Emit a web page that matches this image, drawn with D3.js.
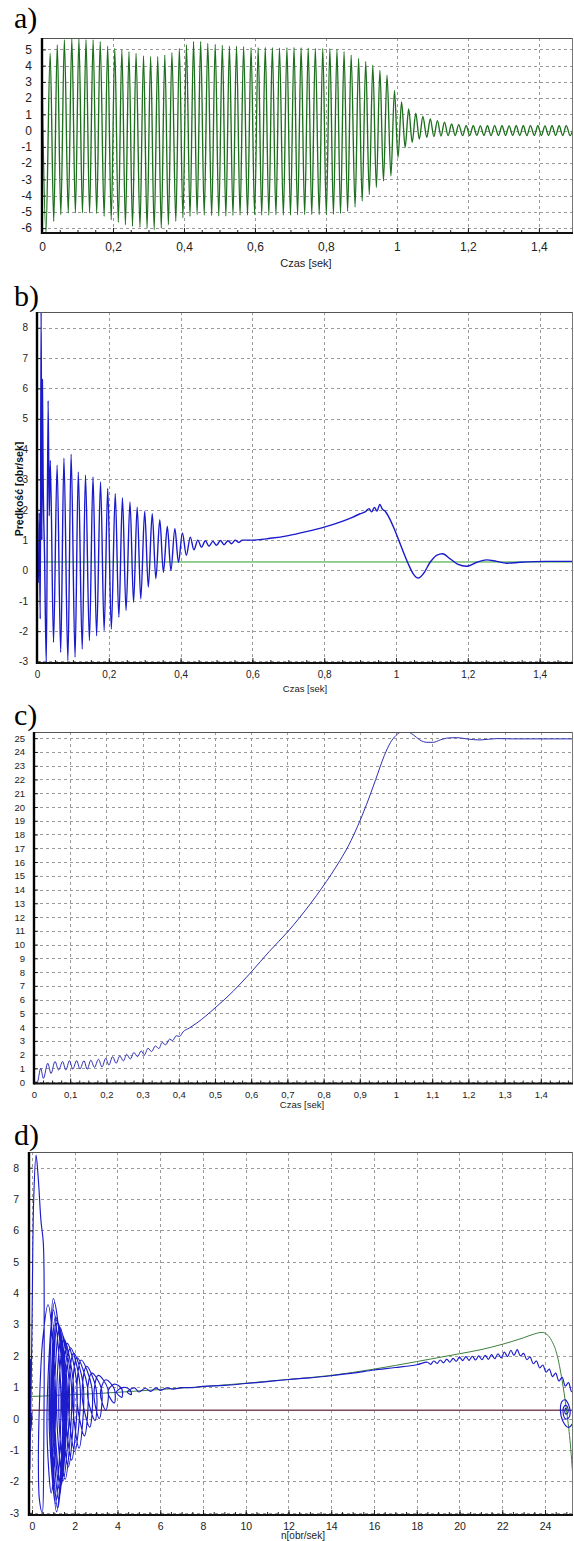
<!DOCTYPE html>
<html>
<head>
<meta charset="utf-8">
<script src="https://cdn.jsdelivr.net/npm/d3@7"></script>
<style>
  body { margin: 0; background: #fff; }
</style>
</head>
<body>
<svg id="chart" width="574" height="1541"></svg>
<script>
// ---- a) current vs time : peaks and troughs ----
var aStart = [[0, 3.5]];
var aPeaks = [[0.023,4.75],[0.043,5.27],[0.063,5.58],[0.084,5.64],[0.104,5.64],[0.124,5.6],[0.144,5.58],[0.164,5.48],[0.185,5.2],[0.205,5.06],[0.225,4.96],[0.245,4.85],[0.265,4.75],[0.286,4.6],[0.306,4.55],[0.326,4.55],[0.346,4.65],[0.366,4.8],[0.387,5.06],[0.407,5.27],[0.427,5.48],[0.447,5.48],[0.467,5.37],[0.488,5.3],[0.508,5.25],[0.528,5.2],[0.548,5.2],[0.568,5.17],[0.589,5.1],[0.609,5.1],[0.629,5.12],[0.649,5.1],[0.669,5.08],[0.69,5.1],[0.71,5.12],[0.73,5.1],[0.75,5.08],[0.77,5.06],[0.791,5.06],[0.811,5.04],[0.831,5.0],[0.851,4.86],[0.871,4.65],[0.892,4.44],[0.912,4.24],[0.932,4.03],[0.952,3.72],[0.972,3.41],[0.993,2.48],[1.013,1.76],[1.033,1.34],[1.053,1.07],[1.073,0.87],[1.094,0.72],[1.114,0.62],[1.134,0.52],[1.154,0.41],[1.174,0.37],[1.195,0.31],[1.215,0.3],[1.235,0.29],[1.255,0.3],[1.275,0.31],[1.296,0.3],[1.316,0.29],[1.336,0.3],[1.356,0.3],[1.376,0.31],[1.397,0.3],[1.417,0.29],[1.437,0.3],[1.457,0.3],[1.477,0.31],[1.498,0.3]];
var aTroughs = [[0.011,-6.3],[0.033,-5.58],[0.053,-5.17],[0.074,-5.06],[0.094,-5.06],[0.114,-5.06],[0.134,-5.06],[0.154,-5.1],[0.175,-5.27],[0.195,-5.48],[0.215,-5.64],[0.235,-5.79],[0.255,-5.89],[0.276,-5.95],[0.296,-6.0],[0.316,-6.1],[0.336,-6.0],[0.356,-5.79],[0.377,-5.58],[0.397,-5.37],[0.417,-5.27],[0.437,-5.17],[0.457,-5.2],[0.478,-5.22],[0.498,-5.25],[0.518,-5.25],[0.538,-5.22],[0.558,-5.2],[0.579,-5.2],[0.599,-5.18],[0.619,-5.2],[0.639,-5.2],[0.659,-5.18],[0.68,-5.2],[0.7,-5.2],[0.72,-5.18],[0.74,-5.17],[0.76,-5.17],[0.781,-5.17],[0.801,-5.17],[0.821,-5.15],[0.841,-5.1],[0.861,-4.96],[0.882,-4.71],[0.902,-4.34],[0.922,-3.93],[0.942,-3.51],[0.962,-3.1],[0.983,-2.79],[1.003,-1.65],[1.023,-1.03],[1.043,-0.72],[1.063,-0.52],[1.084,-0.41],[1.104,-0.37],[1.124,-0.33],[1.144,-0.31],[1.164,-0.3],[1.185,-0.31],[1.205,-0.3],[1.225,-0.29],[1.245,-0.3],[1.265,-0.31],[1.286,-0.3],[1.306,-0.3],[1.326,-0.29],[1.346,-0.3],[1.366,-0.31],[1.387,-0.3],[1.407,-0.3],[1.427,-0.29],[1.447,-0.3],[1.467,-0.3],[1.488,-0.31]];
var aXTicks = [0, 0.2, 0.4, 0.6, 0.8, 1, 1.2, 1.4];
var aYTicks = [-6, -5, -4, -3, -2, -1, 0, 1, 2, 3, 4, 5];

// ---- b) torque vs time ----
var bTorque = [[0,0.2],[0.004,-0.4],[0.006,1.9],[0.009,-1.6],[0.0115,8.7],[0.0135,1.0],[0.015,6.3],[0.017,3.2],[0.021,0.5],[0.026,-3.08],[0.031,5.6],[0.034,1.8],[0.037,3.63],[0.046,-2.37],[0.056,3.47],[0.066,-2.7],[0.075,3.7],[0.086,-2.97],[0.095,3.83],[0.106,-2.86],[0.115,3.25],[0.126,-2.59],[0.135,3.14],[0.146,-2.31],[0.156,3.08],[0.166,-2.15],[0.177,2.92],[0.187,-1.98],[0.197,2.7],[0.207,-1.93],[0.218,2.53],[0.228,-1.54],[0.238,2.4],[0.248,-1.32],[0.259,2.26],[0.269,-1.05],[0.279,2.09],[0.289,-0.94],[0.3,1.95],[0.31,-0.55],[0.321,1.87],[0.331,-0.27],[0.342,1.67],[0.352,-0.06],[0.363,1.45],[0.373,0.0],[0.384,1.38],[0.394,0.27],[0.405,1.24],[0.416,0.5],[0.427,1.1],[0.437,0.68],[0.448,1.0],[0.458,0.77],[0.469,0.98],[0.479,0.8],[0.49,0.96],[0.5,0.83],[0.511,0.99],[0.521,0.85],[0.532,0.98],[0.542,0.88],[0.552,1.0],[0.562,0.92],[0.572,1.0],[0.6,1.0],[0.65,1.06],[0.7,1.15],[0.75,1.28],[0.8,1.43],[0.85,1.62],[0.88,1.76],[0.9,1.87],[0.915,1.94],[0.925,2.04],[0.932,1.93],[0.94,2.08],[0.947,1.96],[0.955,2.18],[0.962,2.02],[0.97,1.95],[0.98,1.76],[0.997,1.32],[1.015,0.77],[1.034,0.22],[1.048,-0.11],[1.062,-0.25],[1.076,-0.11],[1.095,0.27],[1.113,0.5],[1.13,0.55],[1.15,0.39],[1.173,0.2],[1.197,0.14],[1.225,0.27],[1.252,0.35],[1.28,0.3],[1.308,0.24],[1.345,0.27],[1.42,0.3],[1.493,0.3]];
var bLoad = 0.28;
var bXTicks = [0, 0.2, 0.4, 0.6, 0.8, 1, 1.2, 1.4];
var bYTicks = [-3, -2, -1, 0, 1, 2, 3, 4, 5, 6, 7, 8];

// ---- c) speed vs time ----
var cSpeed = [[0,0],[0.009,0],[0.0185,1.0],[0.026,0.27],[0.038,1.37],[0.047,0.63],[0.058,1.5],[0.068,0.88],[0.079,1.5],[0.088,0.88],[0.098,1.56],[0.107,0.95],[0.118,1.56],[0.127,0.95],[0.138,1.56],[0.147,0.93],[0.157,1.6],[0.167,1.07],[0.178,1.66],[0.188,1.1],[0.198,1.73],[0.207,1.24],[0.217,1.85],[0.227,1.37],[0.237,1.9],[0.247,1.54],[0.256,2.02],[0.266,1.68],[0.276,2.15],[0.286,1.85],[0.296,2.27],[0.305,1.98],[0.315,2.46],[0.325,2.22],[0.335,2.63],[0.345,2.44],[0.354,2.88],[0.364,2.71],[0.374,3.12],[0.383,3.02],[0.393,3.37],[0.402,3.32],[0.412,3.66],[0.429,3.93],[0.45,4.3],[0.5,5.39],[0.55,6.6],[0.6,8.0],[0.65,9.5],[0.7,10.9],[0.735,12.0],[0.795,14.1],[0.845,16.1],[0.87,17.25],[0.894,18.6],[0.919,20.2],[0.944,22.0],[0.968,23.75],[0.985,24.7],[1.0,25.2],[1.014,25.45],[1.028,25.5],[1.048,25.24],[1.066,24.87],[1.085,24.7],[1.103,24.7],[1.122,24.87],[1.145,25.02],[1.168,25.04],[1.195,24.95],[1.232,24.87],[1.278,24.97],[1.324,24.95],[1.489,24.95]];
var cXTicks = [0, 0.1, 0.2, 0.3, 0.4, 0.5, 0.6, 0.7, 0.8, 0.9, 1, 1.1, 1.2, 1.3, 1.4];
var cYTicks = [0,1,2,3,4,5,6,7,8,9,10,11,12,13,14,15,16,17,18,19,20,21,22,23,24,25];

// ---- d) torque vs speed ----
var dDynamic = [[0,0.2],[-0.05,-0.4],[-0.08,1.9],[-0.1,-1.6],[0.0,3.0],[0.08,7.0],[0.19,8.4],[0.3,7.6],[0.42,6.3],[0.53,5.6],[0.57,2.5],[0.55,-1.0],[0.48,-3.0],[0.35,-2.6],[0.3,-1.5],[0.35,0.5],[0.5,2.5],
  [0.75,3.63],[1.1,0.8],[0.9,-2.37],[0.7,-0.2],
  [1.0,3.47],[1.35,0.8],[1.1,-2.7],[0.8,0.0],
  [1.05,3.7],[1.45,0.8],[1.15,-2.97],[0.85,0.2],
  [1.0,3.83],[1.5,0.8],[1.2,-2.86],[0.9,0.2],
  [1.1,3.25],[1.55,0.9],[1.25,-2.59],[0.95,0.3],
  [1.15,3.14],[1.6,0.9],[1.3,-2.31],[1.0,0.3],
  [1.2,3.08],[1.65,1.0],[1.35,-2.15],[1.05,0.35],
  [1.3,2.92],[1.75,1.0],[1.45,-1.98],[1.15,0.4],
  [1.4,2.7],[1.85,1.0],[1.55,-1.93],[1.25,0.4],
  [1.5,2.53],[1.95,1.0],[1.7,-1.54],[1.4,0.45],
  [1.65,2.4],[2.1,1.05],[1.85,-1.32],[1.55,0.5],
  [1.8,2.26],[2.25,1.05],[2.0,-1.05],[1.7,0.55],
  [1.95,2.09],[2.4,1.05],[2.2,-0.94],[1.9,0.6],
  [2.1,1.95],[2.6,1.0],[2.45,-0.55],[2.1,0.65],
  [2.3,1.87],[2.8,1.0],[2.7,-0.27],[2.35,0.7],
  [2.55,1.67],[3.0,0.95],[2.95,-0.06],[2.6,0.75],
  [2.8,1.45],[3.25,0.95],[3.15,0.0],[2.9,0.75],
  [3.1,1.38],[3.55,0.95],[3.45,0.27],[3.2,0.8],
  [3.45,1.24],[3.85,0.95],[3.85,0.5],[3.55,0.85],
  [3.85,1.1],[4.2,0.95],[4.2,0.68],[3.95,0.85],
  [4.3,1.0],[4.6,0.9],[4.65,0.77],[4.45,0.85],
  [4.8,0.98],[5.0,0.85],[5.3,0.97],[5.55,0.87],[5.8,0.98],[6.0,0.9],[6.3,0.98],[6.6,0.94],[7.0,0.99],[7.5,0.99],[8.0,1.03],[9.0,1.06],[10.0,1.12],[11.0,1.18],[12.0,1.25],[13.0,1.3],[14.0,1.37],[15.0,1.45],[16.0,1.55],[17.0,1.63],[18.0,1.72],
  [18.5,1.8],[18.65,1.73],[18.8,1.84],[18.95,1.76],[19.1,1.87],[19.25,1.78],[19.4,1.9],[19.55,1.8],[19.7,1.92],[19.85,1.83],[20.0,1.96],[20.15,1.85],[20.3,1.98],[20.45,1.86],[20.6,1.99],[20.75,1.87],[20.9,2.0],[21.05,1.88],[21.2,2.02],[21.35,1.89],[21.5,2.04],[21.65,1.91],[21.8,2.07],[21.95,1.94],[22.1,2.12],[22.25,1.98],[22.4,2.18],[22.55,2.02],[22.7,2.2],[22.85,2.0],
  [23.0,2.08],[23.15,1.88],[23.3,1.97],[23.45,1.75],[23.6,1.84],[23.75,1.62],[23.9,1.71],[24.05,1.48],[24.2,1.58],[24.35,1.34],[24.5,1.45],[24.65,1.2],[24.8,1.32],[24.95,1.04],[25.1,1.15],[25.25,0.86],[25.4,0.95],[25.55,0.65],
  [25.65,0.5],[25.55,0.15],[25.3,-0.15],[25.1,-0.28],[24.85,-0.1],[24.72,0.3],[24.8,0.55],[24.95,0.6],[25.1,0.45],[25.18,0.2],[25.1,0.02],[24.95,0.0],[24.85,0.18],[24.9,0.4],[25.0,0.42],[25.08,0.3],[25.05,0.17],[24.97,0.15],[24.93,0.27],[24.97,0.33],[25.0,0.28]];
var dStatic = [[-0.14,0.71],[0,0.71],[1,0.74],[2,0.77],[3,0.8],[4,0.84],[6,0.93],[8,1.02],[10,1.13],[12,1.25],[14,1.38],[16,1.58],[18,1.82],[20,2.07],[21,2.2],[22,2.37],[23,2.58],[23.5,2.7],[23.85,2.75],[24.1,2.68],[24.3,2.5],[24.55,2.07],[24.8,1.22],[25.0,0.3],[25.17,-0.69],[25.32,-2.0]];
var dLoad = 0.27;
var dXTicks = [0, 2, 4, 6, 8, 10, 12, 14, 16, 18, 20, 22, 24];
var dYTicks = [-3, -2, -1, 0, 1, 2, 3, 4, 5, 6, 7, 8];

var svg = d3.select("#chart");
var sans = "'Liberation Sans', Arial, sans-serif";
var serif = "'Liberation Serif', 'Times New Roman', serif";

function commaFmt(d) { return String(d).replace(".", ","); }

function drawPanel(p) {
  var x = d3.scaleLinear().domain(p.xDomain).range([p.left, p.right]);
  var y = d3.scaleLinear().domain(p.yDomain).range([p.bottom, p.top]);
  var g = svg.append("g");

  g.append("clipPath").attr("id", p.id + "-clip")
    .append("rect")
    .attr("x", p.left).attr("y", p.top)
    .attr("width", p.right - p.left).attr("height", p.bottom - p.top);

  // dashed grid
  g.selectAll(".hgrid").data(p.yTicks).enter().append("line")
    .attr("x1", p.left).attr("x2", p.right)
    .attr("y1", function(d){ return Math.round(y(d)) + 0.5; })
    .attr("y2", function(d){ return Math.round(y(d)) + 0.5; })
    .attr("stroke", "#9a9a9a").attr("stroke-dasharray", "3,3");
  g.selectAll(".vgrid").data(p.xTicks.filter(function(d){ return x(d) > p.left + 2; })).enter().append("line")
    .attr("y1", p.top).attr("y2", p.bottom)
    .attr("x1", function(d){ return Math.round(x(d)) + 0.5; })
    .attr("x2", function(d){ return Math.round(x(d)) + 0.5; })
    .attr("stroke", "#9a9a9a").attr("stroke-dasharray", "3,3");

  // series
  var plot = g.append("g").attr("clip-path", "url(#" + p.id + "-clip)");
  p.series.forEach(function(s) {
    var line = d3.line()
      .x(function(d){ return x(d[0]); })
      .y(function(d){ return y(d[1]); })
      .curve(s.curve || d3.curveMonotoneX);
    plot.append("path").datum(s.data)
      .attr("d", line)
      .attr("fill", "none")
      .attr("stroke", s.color)
      .attr("stroke-width", s.width)
      .attr("stroke-linejoin", "round");
  });

  // frame
  g.append("line").attr("x1", p.left).attr("x2", p.right).attr("y1", p.top + 0.5).attr("y2", p.top + 0.5)
    .attr("stroke", "#555").attr("stroke-width", 1.2);
  g.append("line").attr("x1", p.right - 0.5).attr("x2", p.right - 0.5).attr("y1", p.top).attr("y2", p.bottom)
    .attr("stroke", "#777");

  // x axis labels + ticks
  var xa = g.append("g").attr("transform", "translate(0," + p.bottom + ")")
    .call(d3.axisBottom(x).tickValues(p.xTicks).tickFormat(commaFmt).tickSize(-5).tickPadding(p.xPad + 5));
  xa.select(".domain").remove();
  xa.selectAll("line").attr("stroke", "#222");
  xa.selectAll("text").attr("font-size", p.font).attr("fill", "#222").style("font-family", sans);

  var xm = g.append("g").attr("transform", "translate(0," + p.bottom + ")")
    .call(d3.axisBottom(x).tickValues(p.xMinor).tickFormat("").tickSize(-3));
  xm.select(".domain").remove();
  xm.selectAll("line").attr("stroke", "#222");

  // y axis labels + ticks
  var ya = g.append("g").attr("transform", "translate(" + p.left + ",0)")
    .call(d3.axisLeft(y).tickValues(p.yTicks).tickFormat(commaFmt).tickSize(-4).tickPadding(p.yPad + 4));
  ya.select(".domain").remove();
  ya.selectAll("line").attr("stroke", "#222");
  ya.selectAll("text").attr("font-size", p.font).attr("fill", "#222").style("font-family", sans);

  // axis lines
  g.append("line").attr("x1", p.left).attr("x2", p.left).attr("y1", p.top).attr("y2", p.bottom + 1)
    .attr("stroke", "#000").attr("stroke-width", 2.4);
  g.append("line").attr("x1", p.left).attr("x2", p.right).attr("y1", p.bottom).attr("y2", p.bottom)
    .attr("stroke", "#111").attr("stroke-width", 2);

  // axis title
  g.append("text").attr("x", p.titleX).attr("y", p.titleY)
    .attr("text-anchor", p.titleAnchor).attr("font-size", p.titleSize).attr("fill", "#222")
    .style("font-family", sans)
    .text(p.title);

  // panel letter
  svg.append("text").attr("x", 14).attr("y", p.letterY)
    .attr("font-size", 30).attr("fill", "#000")
    .style("font-family", serif)
    .text(p.letter);

  return { x: x, y: y };
}

drawPanel({
  id: "pa", letter: "a)", letterY: 28,
  left: 42, right: 573, top: 38, bottom: 233,
  xDomain: [0, 1.496], yDomain: [-6.3, 5.7],
  xTicks: aXTicks, yTicks: aYTicks, xMinor: d3.range(0.05, 1.5, 0.05),
  font: 12, xPad: 4, yPad: 6,
  title: "Czas [sek]", titleX: 306, titleY: 267, titleAnchor: "middle", titleSize: 11,
  series: [
    { data: aStart.concat(aPeaks, aTroughs).sort(function(p, q){ return p[0] - q[0]; }), color: "#1c6f1c", width: 1.35 }
  ]
});

drawPanel({
  id: "pb", letter: "b)", letterY: 306,
  left: 37, right: 573, top: 312, bottom: 663,
  xDomain: [0, 1.493], yDomain: [-3.05, 8.52],
  xTicks: bXTicks, yTicks: bYTicks, xMinor: d3.range(0.05, 1.5, 0.05),
  font: 10, xPad: 3, yPad: 5,
  title: "Czas [sek]", titleX: 305, titleY: 692, titleAnchor: "middle", titleSize: 9.5,
  series: [
    { data: [[0, bLoad], [1.493, bLoad]], color: "#2e9e2e", width: 1, curve: d3.curveLinear },
    { data: bTorque, color: "#1a1acc", width: 1.4 }
  ]
});

// vertical title of b), partly cut off at the left like in the source
svg.append("clipPath").attr("id", "blabel-clip")
  .append("rect").attr("x", 14).attr("y", 430).attr("width", 10).attr("height", 120);
svg.append("g")
  .attr("clip-path", "url(#blabel-clip)")
  .append("text")
  .attr("transform", "translate(23,489) rotate(-90)")
  .attr("text-anchor", "middle").attr("font-size", 10.5).attr("font-weight", "bold").attr("fill", "#111")
  .style("font-family", sans)
  .text("Prędkość [obr/sek]");

drawPanel({
  id: "pc", letter: "c)", letterY: 725,
  left: 34, right: 573, top: 732, bottom: 1083.5,
  xDomain: [0, 1.489], yDomain: [-0.1, 25.45],
  xTicks: cXTicks, yTicks: cYTicks, xMinor: d3.range(0.025, 1.49, 0.025),
  font: 9.5, xPad: 3, yPad: 5,
  title: "Czas [sek]", titleX: 302, titleY: 1108, titleAnchor: "middle", titleSize: 9.5,
  series: [
    { data: cSpeed, color: "#2f2fb4", width: 1 }
  ]
});

drawPanel({
  id: "pd", letter: "d)", letterY: 1145,
  left: 29, right: 573, top: 1152, bottom: 1515,
  xDomain: [-0.14, 25.31], yDomain: [-3.07, 8.5],
  xTicks: dXTicks, yTicks: dYTicks, xMinor: d3.range(0.5, 25.3, 0.5),
  font: 10.5, xPad: 3, yPad: 6,
  title: "n[obr/sek]", titleX: 281, titleY: 1539, titleAnchor: "start", titleSize: 10,
  series: [
    { data: [[-0.14, dLoad], [25.31, dLoad]], color: "#7d4a5a", width: 1.5, curve: d3.curveLinear },
    { data: dStatic, color: "#3c7f3c", width: 1, curve: d3.curveMonotoneX },
    { data: dDynamic, color: "#1c1ccc", width: 1.15, curve: d3.curveCatmullRom.alpha(0.5) }
  ]
});
</script>
</body>
</html>
